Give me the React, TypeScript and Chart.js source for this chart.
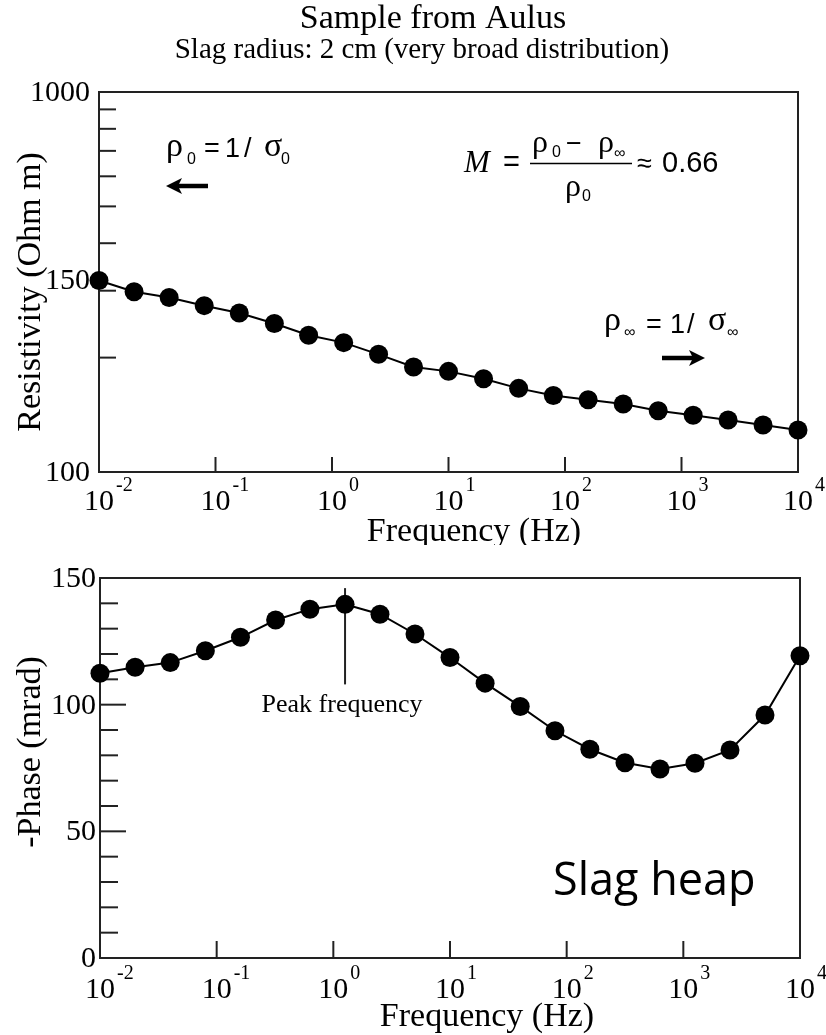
import React, { useEffect, useRef } from "react";
import { Chart, registerables } from "chart.js";

Chart.register(...registerables);

// ---------- data ----------
const frequencyHz = [0.01, 0.02, 0.04, 0.08, 0.16, 0.32, 0.63, 1.26, 2.51, 5.01, 10, 20, 40, 79.4, 158, 316, 631, 1259, 2512, 5012, 10000];
const resistivityOhmM = [319, 298, 288, 274, 262, 246, 229, 219, 204, 189, 184, 176, 166, 159, 155, 151, 145, 141, 137, 133, 129];
const phaseMrad = [112.4, 114.8, 116.6, 121.3, 126.6, 133.4, 137.7, 139.6, 135.7, 127.9, 118.6, 108.5, 99.3, 89.7, 82.4, 77.1, 74.6, 76.9, 82.1, 95.9, 119.3];

const xTickExponents = [-2, -1, 0, 1, 2, 3, 4];
const xMajorTicks = [0.1, 1, 10, 100, 1000];
const resistivityTickValues = [1000, 319, 100];
const resistivityTickLabels = ["1000", "150", "100"];
const resistivityMinorTicks = [200, 300, 400, 500, 600, 700, 800, 900];
const phaseTickValues = [0, 50, 100, 150];
const phaseTickLabels = ["0", "50", "100", "150"];
const phaseMinorTicks = [10, 20, 30, 40, 60, 70, 80, 90, 110, 120, 130, 140];
const peakFrequencyHz = 1.26;
const peakLineRange = [146, 108];

const SERIF = '"Liberation Serif", "Times New Roman", serif';
const SANS = '"Liberation Sans", Arial, sans-serif';
const INK = "#000";
const FRAME = "#222";

function drawFrame(ctx: CanvasRenderingContext2D, a: any) {
  ctx.save();
  ctx.strokeStyle = FRAME;
  ctx.lineWidth = 2;
  ctx.strokeRect(a.left, a.top, a.right - a.left, a.bottom - a.top);
  ctx.restore();
}

function line(ctx: CanvasRenderingContext2D, x1: number, y1: number, x2: number, y2: number, w = 2) {
  ctx.beginPath();
  ctx.moveTo(x1, y1);
  ctx.lineTo(x2, y2);
  ctx.lineWidth = w;
  ctx.strokeStyle = FRAME;
  ctx.stroke();
}

function text(ctx: CanvasRenderingContext2D, s: string, x: number, y: number, font: string, align: CanvasTextAlign = "left", baseline: CanvasTextBaseline = "alphabetic") {
  ctx.font = font;
  ctx.textAlign = align;
  ctx.textBaseline = baseline;
  ctx.fillStyle = INK;
  ctx.fillText(s, x, y);
}

function power(ctx: CanvasRenderingContext2D, x: number, baseY: number, exp: number) {
  ctx.font = `30px ${SERIF}`;
  const w = ctx.measureText("10").width;
  text(ctx, "10", x, baseY, `30px ${SERIF}`, "center");
  text(ctx, String(exp), x + w / 2 + 2, baseY - 19, `20px ${SERIF}`, "left");
}

function rotated(ctx: CanvasRenderingContext2D, s: string, x: number, y: number, font: string) {
  ctx.save();
  ctx.translate(x, y);
  ctx.rotate(-Math.PI / 2);
  text(ctx, s, 0, 0, font, "center", "middle");
  ctx.restore();
}

function arrow(ctx: CanvasRenderingContext2D, xFrom: number, xTo: number, y: number) {
  const dir = Math.sign(xTo - xFrom);
  ctx.save();
  ctx.strokeStyle = INK;
  ctx.fillStyle = INK;
  ctx.lineWidth = 4.5;
  ctx.beginPath();
  ctx.moveTo(xFrom, y);
  ctx.lineTo(xTo - dir * 10, y);
  ctx.stroke();
  ctx.beginPath();
  ctx.moveTo(xTo, y);
  ctx.lineTo(xTo - dir * 16, y - 8);
  ctx.lineTo(xTo - dir * 12, y);
  ctx.lineTo(xTo - dir * 16, y + 8);
  ctx.closePath();
  ctx.fill();
  ctx.restore();
}

const GREEK = `34px ${SERIF}`;
const SUB = `16px ${SANS}`;
const MATH = `27px ${SANS}`;

const topDecor = {
  id: "topDecor",
  beforeDatasetsDraw(chart: any) {
    const { ctx, chartArea: a, scales } = chart;
    drawFrame(ctx, a);
    ctx.save();
    xMajorTicks.forEach((v) => {
      const x = scales.x.getPixelForValue(v);
      line(ctx, x, a.bottom, x, a.bottom - 15);
    });
    resistivityMinorTicks.forEach((v) => {
      const y = scales.y.getPixelForValue(v);
      line(ctx, a.left, y, a.left + 17, y);
    });
    ctx.restore();
  },
  afterDraw(chart: any) {
    const { ctx, chartArea: a, scales } = chart;
    ctx.save();
    // titles
    text(ctx, "Sample from Aulus", 433, 28, `34px ${SERIF}`, "center");
    text(ctx, "Slag radius: 2 cm (very broad distribution)", 422, 58, `29px ${SERIF}`, "center");
    // y tick labels
    resistivityTickValues.forEach((v, i) => {
      const y = scales.y.getPixelForValue(v);
      text(ctx, resistivityTickLabels[i], a.left - 9, y + 1, `30px ${SERIF}`, "right", "middle");
    });
    // x tick labels
    xTickExponents.forEach((e) => {
      power(ctx, scales.x.getPixelForValue(Math.pow(10, e)), 510, e);
    });
    text(ctx, "Frequency (Hz)", 474, 541, `34px ${SERIF}`, "center");
    rotated(ctx, "Resistivity (Ohm m)", 31, 292, `34px ${SERIF}`);

    // rho_0 = 1/ sigma_0
    text(ctx, "ρ", 166, 156, GREEK);
    text(ctx, "0", 187, 164, SUB);
    text(ctx, "=", 204, 157, MATH);
    text(ctx, "1", 225, 157, MATH);
    text(ctx, "/", 244, 157, MATH);
    text(ctx, "σ", 264, 156, GREEK);
    text(ctx, "0", 281, 164, SUB);
    arrow(ctx, 208, 166, 186);

    // M = (rho0 - rhoInf)/rho0 ≈ 0.66
    text(ctx, "M", 464, 172, `italic 31px ${SERIF}`);
    text(ctx, "=", 503, 171, `29px ${SANS}`);
    text(ctx, "ρ", 532, 152, `32px ${SERIF}`);
    text(ctx, "0", 552, 157, SUB);
    text(ctx, "−", 566, 152, MATH);
    text(ctx, "ρ", 598, 152, `32px ${SERIF}`);
    text(ctx, "∞", 614, 158, SUB);
    ctx.beginPath();
    ctx.moveTo(530, 163.5);
    ctx.lineTo(632, 163.5);
    ctx.lineWidth = 1.5;
    ctx.strokeStyle = INK;
    ctx.stroke();
    text(ctx, "ρ", 565, 196, `32px ${SERIF}`);
    text(ctx, "0", 582, 201, SUB);
    text(ctx, "≈", 637, 172, MATH);
    text(ctx, "0.66", 662, 172, `29px ${SANS}`);

    // rho_inf = 1/ sigma_inf
    text(ctx, "ρ", 604, 330, GREEK);
    text(ctx, "∞", 624, 337, SUB);
    text(ctx, "=", 646, 333, MATH);
    text(ctx, "1", 670, 333, MATH);
    text(ctx, "/", 687, 333, MATH);
    text(ctx, "σ", 708, 330, GREEK);
    text(ctx, "∞", 727, 337, SUB);
    arrow(ctx, 662, 705, 358);
    ctx.restore();
  },
};

const OFF = 545;

const bottomDecor = {
  id: "bottomDecor",
  beforeDatasetsDraw(chart: any) {
    const { ctx, chartArea: a, scales } = chart;
    drawFrame(ctx, a);
    ctx.save();
    xMajorTicks.forEach((v) => {
      const x = scales.x.getPixelForValue(v);
      line(ctx, x, a.bottom, x, a.bottom - 17);
    });
    phaseMinorTicks.forEach((v) => {
      const y = scales.y.getPixelForValue(v);
      line(ctx, a.left, y, a.left + 18, y);
    });
    phaseTickValues.forEach((v) => {
      const y = scales.y.getPixelForValue(v);
      line(ctx, a.left, y, a.left + 26, y);
    });
    // peak frequency marker
    const px = scales.x.getPixelForValue(peakFrequencyHz);
    line(ctx, px, scales.y.getPixelForValue(peakLineRange[0]), px, scales.y.getPixelForValue(peakLineRange[1]), 2);
    ctx.restore();
  },
  afterDraw(chart: any) {
    const { ctx, chartArea: a, scales } = chart;
    ctx.save();
    phaseTickValues.forEach((v, i) => {
      const y = scales.y.getPixelForValue(v);
      text(ctx, phaseTickLabels[i], a.left - 4, y + 1, `30px ${SERIF}`, "right", "middle");
    });
    xTickExponents.forEach((e) => {
      power(ctx, scales.x.getPixelForValue(Math.pow(10, e)), 998 - OFF, e);
    });
    text(ctx, "Frequency (Hz)", 487, 1026 - OFF, `34px ${SERIF}`, "center");
    rotated(ctx, "-Phase (mrad)", 31, 752 - OFF, `34px ${SERIF}`);
    const px = scales.x.getPixelForValue(peakFrequencyHz);
    text(ctx, "Peak frequency", px - 3, 712 - OFF, `26px ${SERIF}`, "center");
    text(ctx, "Slag heap", 553, 895 - OFF, `45px "Open Sans", ${SANS}`);
    ctx.restore();
  },
};

function makeDataset(values: number[]) {
  return {
    data: frequencyHz.map((f, i) => ({ x: f, y: values[i] })),
    borderColor: INK,
    borderWidth: 2,
    backgroundColor: INK,
    pointBackgroundColor: INK,
    pointBorderColor: INK,
    pointBorderWidth: 0,
    pointRadius: 9.5,
    tension: 0,
    clip: false as any,
  };
}

function baseOptions(padding: any, y: any) {
  return {
    animation: false as const,
    responsive: false,
    maintainAspectRatio: false,
    devicePixelRatio: 1,
    events: [] as any[],
    layout: { padding },
    plugins: { legend: { display: false }, tooltip: { enabled: false }, title: { display: false } },
    scales: {
      x: { type: "logarithmic" as const, min: 0.01, max: 10000, display: false },
      y,
    },
  };
}

export default function App() {
  const topRef = useRef<HTMLCanvasElement>(null);
  const botRef = useRef<HTMLCanvasElement>(null);

  useEffect(() => {
    const top = new Chart(topRef.current as HTMLCanvasElement, {
      type: "line",
      data: { datasets: [makeDataset(resistivityOhmM)] },
      options: baseOptions(
        { left: 99, right: 28, top: 92, bottom: 73 },
        { type: "logarithmic", min: 100, max: 1000, display: false }
      ) as any,
      plugins: [topDecor],
    });
    const bottom = new Chart(botRef.current as HTMLCanvasElement, {
      type: "line",
      data: { datasets: [makeDataset(phaseMrad)] },
      options: baseOptions(
        { left: 100, right: 26, top: 33, bottom: 77 },
        { type: "linear", min: 0, max: 150, display: false }
      ) as any,
      plugins: [bottomDecor],
    });
    return () => {
      top.destroy();
      bottom.destroy();
    };
  }, []);

  return (
    <div style={{ position: "absolute", left: 0, top: 0, width: 826, height: 1035, background: "#fff", overflow: "hidden" }}>
      <canvas ref={topRef} width={826} height={545} style={{ position: "absolute", left: 0, top: 0, width: 826, height: 545 }} />
      <canvas ref={botRef} width={826} height={490} style={{ position: "absolute", left: 0, top: 545, width: 826, height: 490 }} />
    </div>
  );
}
